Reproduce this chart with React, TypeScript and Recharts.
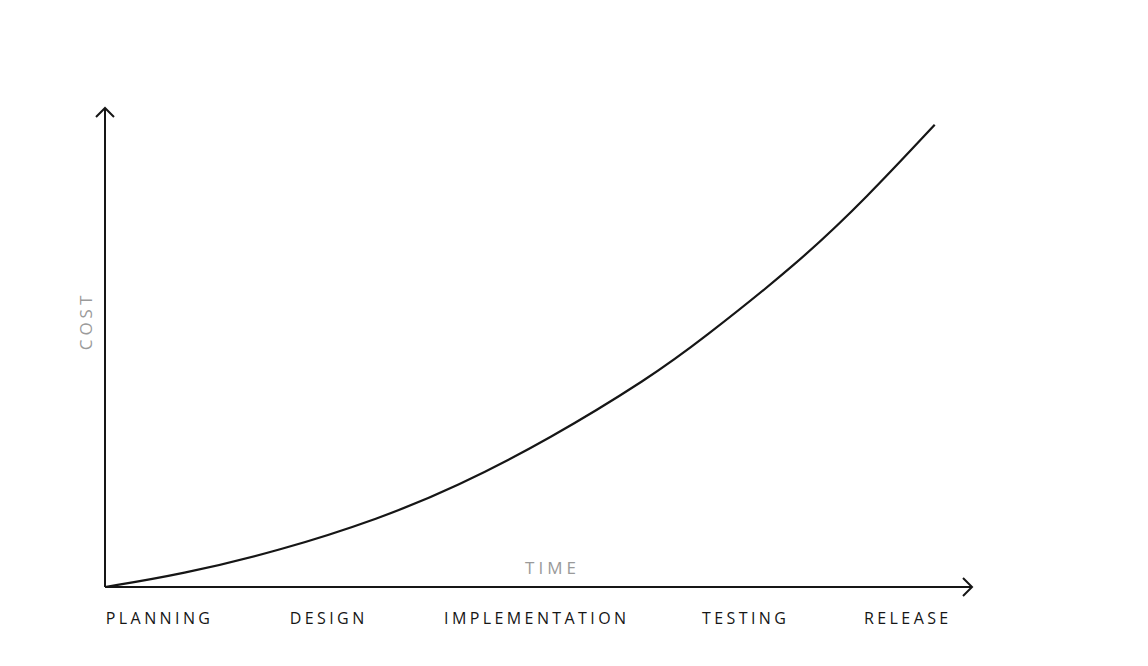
import React from 'react';
import { LineChart, Line, XAxis, YAxis } from 'recharts';

// time on x (0-100), cost on y (0-100)
const timePoints = [0, 8.7, 20.2, 31.7, 40.4, 51.3, 62.9, 68.6, 80.2, 87.9, 95.7];
const costPoints = [0, 2.6, 7.6, 14.3, 20.8, 30.9, 43.8, 51.3, 68.0, 81.4, 96.5];

const stages = ['PLANNING', 'DESIGN', 'IMPLEMENTATION', 'TESTING', 'RELEASE'];
const stagePositions = [6.3, 25.8, 49.8, 73.9, 92.6];

const data = timePoints.map((t, i) => ({ time: t, cost: costPoints[i] }));

const INK = '#161616';
const GREY = '#9a9a9a';
const FONT = '"Open Sans", sans-serif';

const TimeLabel = ({ viewBox }: any) => (
    <text
        x={viewBox.x + viewBox.width / 2 + 14}
        y={viewBox.y - 13}
        textAnchor="middle"
        fill={GREY}
        fontFamily={FONT}
        fontSize={17}
        letterSpacing={4}
    >
        TIME
    </text>
);

const CostLabel = ({ viewBox }: any) => {
    const x = viewBox.x + viewBox.width - 13;
    const y = viewBox.y + 213;
    return (
        <text
            x={x}
            y={y}
            transform={`rotate(-90 ${x} ${y})`}
            textAnchor="middle"
            fill={GREY}
            fontFamily={FONT}
            fontSize={17}
            letterSpacing={4}
        >
            COST
        </text>
    );
};

export default function App() {
    return (
        <div style={{ position: 'absolute', left: 0, top: 0, width: 1148, height: 666, background: '#fff' }}>
            <LineChart
                width={1148}
                height={666}
                data={data}
                margin={{ top: 108, right: 176, bottom: 39, left: 65 }}
            >
                <defs>
                    <marker
                        id="arrowHead"
                        viewBox="-12 -12 24 24"
                        refX={0}
                        refY={0}
                        markerWidth={24}
                        markerHeight={24}
                        markerUnits="userSpaceOnUse"
                        orient="auto-start-reverse"
                    >
                        <path d="M -9 -9 L 0 0 L -9 9" fill="none" stroke={INK} strokeWidth={2} />
                    </marker>
                </defs>
                <XAxis
                    dataKey="time"
                    type="number"
                    domain={[0, 100]}
                    ticks={stagePositions}
                    tickFormatter={(v: number) => stages[stagePositions.indexOf(v)] ?? ''}
                    interval={0}
                    height={40}
                    tickLine={false}
                    tickSize={0}
                    tickMargin={26}
                    axisLine={{ stroke: INK, strokeWidth: 2, markerEnd: 'url(#arrowHead)' } as any}
                    tick={{ fill: INK, fontSize: 16, fontFamily: FONT, fontWeight: 500, letterSpacing: 3.4 } as any}
                    label={<TimeLabel />}
                />
                <YAxis
                    type="number"
                    domain={[0, 100]}
                    width={40}
                    tick={false}
                    tickLine={false}
                    axisLine={{ stroke: INK, strokeWidth: 2, markerStart: 'url(#arrowHead)' } as any}
                    label={<CostLabel />}
                />
                <Line
                    type="basis"
                    dataKey="cost"
                    stroke={INK}
                    strokeWidth={2.2}
                    dot={false}
                    activeDot={false}
                    isAnimationActive={false}
                />
            </LineChart>
        </div>
    );
}
